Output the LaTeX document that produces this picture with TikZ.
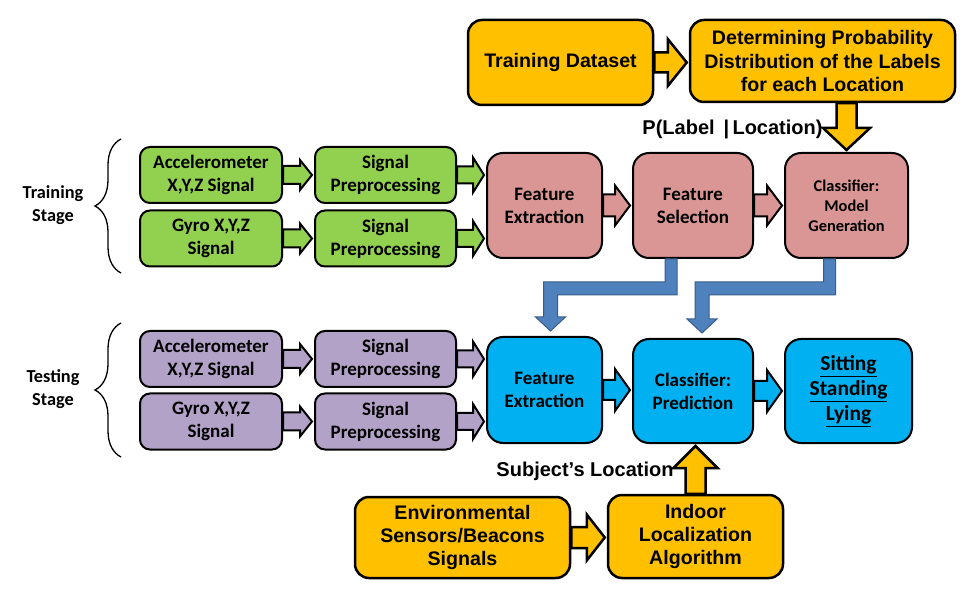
\documentclass[tikz,border=0pt]{standalone}
\usepackage{fontspec}
\setmainfont{Carlito}
\newfontfamily\arialfont{Liberation Sans}
\usetikzlibrary{calc,decorations.pathreplacing}

\definecolor{boxgreen}{HTML}{92D050}
\definecolor{boxpurple}{HTML}{B3A2C7}
\definecolor{boxpink}{HTML}{D99694}
\definecolor{boxblue}{HTML}{00B0F0}
\definecolor{boxyellow}{HTML}{FFC000}
\definecolor{elbowblue}{HTML}{4F81BD}
\definecolor{elbowedge}{HTML}{385D8A}

\tikzset{
  box/.style={draw=black, line width=2pt, rounded corners=10pt, align=center, inner sep=0pt,
    font=\bfseries\fontsize{19}{23}\selectfont},
  sensor/.style={box, minimum width=142pt, minimum height=56pt},
  stagebox/.style={box, rounded corners=16pt, minimum height=105pt},
  yellowbox/.style={box, fill=boxyellow, line width=2.5pt, rounded corners=14pt,
    font=\arialfont\bfseries\fontsize{19.6}{23.3}\selectfont},
  fat/.style={draw=black, line width=2pt, line join=miter},
  elbow/.style={fill=elbowblue, draw=elbowedge, line width=1pt},
  stagelabel/.style={align=center, font=\bfseries\fontsize{18.3}{23}\selectfont},
  arrowlabel/.style={anchor=base, font=\arialfont\bfseries\fontsize{20}{24}\selectfont}
}

% block arrow: [style]{from}{to}{shaft half width}{head half width}{head length}
\newcommand{\blockarrow}[6][]{%
  \draw[fat,#1] ($(#2)!#4!90:(#3)$) -- ($(#3)!#6+2pt!(#2)!#4!-90:(#2)$)
    -- ($(#3)!#6+2pt!(#2)!#5!-90:(#2)$) -- ($(#3)!2pt!(#2)$)
    -- ($(#3)!#6+2pt!(#2)!#5!90:(#2)$) -- ($(#3)!#6+2pt!(#2)!#4!90:(#2)$)
    -- ($(#2)!#4!-90:(#3)$) -- cycle;}

% bent arrow from a training block down to a testing block
\newcommand{\elbowarrow}[2]{%
  \draw[elbow] let \p1=(#1), \p2=(#2) in
    (\x1-6pt,\y1) -- (\x1+6pt,\y1) -- (\x1+6pt,\y1-36pt) -- (\x2+7pt,\y1-36pt)
    -- (\x2+7pt,\y2+14pt) -- (\x2+15pt,\y2+14pt) -- (\x2,\y2) -- (\x2-15pt,\y2+14pt)
    -- (\x2-7pt,\y2+14pt) -- (\x2-7pt,\y1-23pt) -- (\x1-6pt,\y1-23pt) -- cycle;}

\begin{document}
\begin{tikzpicture}[x=1pt, y=-1pt]

    \useasboundingbox (0,0) rectangle (980,601);

    % Training stage
    \node[stagelabel] (tlabel) at (53,205) {Training\\Stage};
    \draw[decorate, decoration={brace, amplitude=26pt}, line width=1.3pt] (121,273) -- (121,139);
    \node[sensor, fill=boxgreen] (tacc) at (211,175) {Accelerometer\\X,Y,Z Signal};
    \node[sensor, fill=boxgreen] (tgyro) at (211,238.5) {Gyro X,Y,Z\\Signal};
    \node[sensor, fill=boxgreen, minimum width=141pt] (tpre1) at (385.5,175) {Signal\\Preprocessing};
    \node[sensor, fill=boxgreen, minimum width=141pt] (tpre2) at (385.5,238.5) {Signal\\Preprocessing};
    \node[stagebox, fill=boxpink, minimum width=115pt] (tfext) at (544.5,205.5) {Feature\\Extraction};
    \node[stagebox, fill=boxpink, minimum width=120pt] (tfsel) at (693,205.5) {Feature\\Selection};
    \node[stagebox, fill=boxpink, minimum width=123pt, font=\bfseries\fontsize{16.4}{20}\selectfont] (tcls) at (846.5,205.5) {Classifier:\\Model\\Generation};

    \blockarrow[fill=boxgreen]{tacc.east}{tpre1.west}{9pt}{15pt}{12pt}
    \blockarrow[fill=boxgreen]{tgyro.east}{tpre2.west}{9pt}{15pt}{12pt}
    \blockarrow[fill=boxgreen]{tpre1.east}{tpre1.east -| tfext.west}{8.5pt}{17.5pt}{11pt}
    \blockarrow[fill=boxgreen]{tpre2.east}{tpre2.east -| tfext.west}{8.5pt}{17.5pt}{11pt}
    \blockarrow[fill=boxpink]{tfext.east}{tfsel.west}{11pt}{20pt}{15pt}
    \blockarrow[fill=boxpink]{tfsel.east}{tcls.west}{11pt}{20pt}{15pt}

    % Label distribution
    \node[yellowbox, minimum width=185pt, minimum height=85pt] (data) at (560.5,62.5) {Training Dataset};
    \node[yellowbox, minimum width=265pt, minimum height=82pt] (prob) at (822.5,61) {Determining Probability\\Distribution of the Labels\\for each Location};
    \blockarrow[fill=boxyellow, line width=2.5pt]{data.east}{data.east -| prob.west}{10pt}{23.5pt}{19pt}
    \blockarrow[fill=boxyellow, line width=2.5pt]{prob.south -| tcls.north}{tcls.north}{10pt}{23.5pt}{22pt}
    \node[arrowlabel] (plabel) at (732.5,135) {P(Label \,|\,Location)};

    % Testing stage
    \node[stagelabel] (slabel) at (53,389) {Testing\\Stage};
    \draw[decorate, decoration={brace, amplitude=26pt}, line width=1.3pt] (121,457) -- (121,323);
    \node[sensor, fill=boxpurple] (sacc) at (211,359) {Accelerometer\\X,Y,Z Signal};
    \node[sensor, fill=boxpurple] (sgyro) at (211,421.5) {Gyro X,Y,Z\\Signal};
    \node[sensor, fill=boxpurple, minimum width=141pt] (spre1) at (385.5,359) {Signal\\Preprocessing};
    \node[sensor, fill=boxpurple, minimum width=141pt] (spre2) at (385.5,421.5) {Signal\\Preprocessing};
    \node[stagebox, fill=boxblue, minimum width=115pt, minimum height=106pt] (sfext) at (544.5,390) {Feature\\Extraction};
    \node[stagebox, fill=boxblue, minimum width=120pt, minimum height=104pt] (scls) at (693,391) {Classifier:\\Prediction};
    \node[stagebox, fill=boxblue, minimum width=127pt, minimum height=104pt, font=\bfseries\fontsize{21.4}{25}\selectfont] (sout) at (848.5,391) {\underline{Sitting}\\\underline{Standing}\\\underline{Lying}};

    \blockarrow[fill=boxpurple]{sacc.east}{spre1.west}{9pt}{15pt}{12pt}
    \blockarrow[fill=boxpurple]{sgyro.east}{spre2.west}{9pt}{15pt}{12pt}
    \blockarrow[fill=boxpurple]{spre1.east}{spre1.east -| sfext.west}{8.5pt}{17.5pt}{11pt}
    \blockarrow[fill=boxpurple]{spre2.east}{spre2.east -| sfext.west}{8.5pt}{17.5pt}{11pt}
    \blockarrow[fill=boxblue]{sfext.east}{sfext.east -| scls.west}{10pt}{21pt}{15pt}
    \blockarrow[fill=boxblue]{scls.east}{sout.west}{10pt}{21pt}{15pt}

    % Trained models passed on
    \elbowarrow{$(tfsel.south)+(-22,0)$}{$(sfext.north)+(6,-5)$}
    \elbowarrow{$(tcls.south)+(-17,0)$}{$(scls.north)+(9,-5)$}

    % Localization
    \node[yellowbox, minimum width=215pt, minimum height=81pt] (env) at (462.5,537.5) {Environmental\\Sensors/Beacons\\Signals};
    \node[yellowbox, minimum width=175pt, minimum height=83pt] (indoor) at (695.5,536.5) {Indoor\\Localization\\Algorithm};
    \blockarrow[fill=boxyellow, line width=2.5pt]{env.east}{env.east -| indoor.west}{10.5pt}{23pt}{18pt}
    \blockarrow[fill=boxyellow, line width=2.5pt]{indoor.north}{indoor.north |- scls.south}{10pt}{22pt}{22pt}
    \node[arrowlabel] (loclabel) at (585,476) {Subject’s Location};

\end{tikzpicture}
\end{document}
